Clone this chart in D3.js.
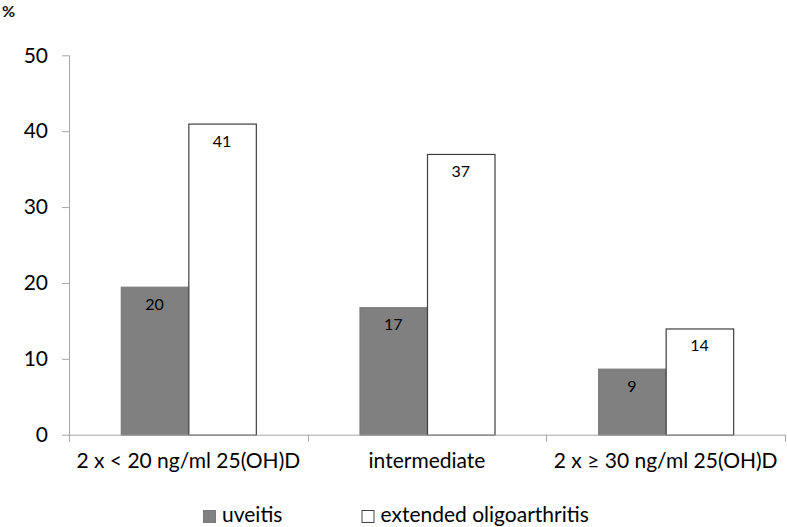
<!DOCTYPE html>
<html>
<head>
<meta charset="utf-8">
<script src="https://cdn.jsdelivr.net/npm/d3@7"></script>
<style>
  html, body { margin: 0; padding: 0; background: #fff; }
  svg { display: block; font-family: Lato, "Open Sans", sans-serif; }
</style>
</head>
<body>
<svg id="chart" width="787" height="527"></svg>
<script>
const categories = ["2 x < 20 ng/ml 25(OH)D", "intermediate", "2 x \u2265 30 ng/ml 25(OH)D"];
const seriesNames = ["uveitis", "extended oligoarthritis"];
const uveitis = [19.5, 16.8, 8.7];
const extended = [41.0, 37.0, 14.0];
const uveitisLabels = ["20", "17", "9"];
const extendedLabels = ["41", "37", "14"];
const yTicks = [0, 10, 20, 30, 40, 50];
const yUnit = "%";

const fills = { "uveitis": "#808080", "extended oligoarthritis": "#ffffff" };
const strokes = { "uveitis": "#7a7a7a", "extended oligoarthritis": "#3f3f3f" };

const svg = d3.select("#chart");
const mLeft = 69, mRight = 785, mTop = 55.3, mBottom = 434.7;

const x0 = d3.scaleBand().domain(categories).range([mLeft, mRight]).padding(0);
const x1 = d3.scaleBand().domain(seriesNames).range([0, x0.bandwidth()]).paddingInner(0).paddingOuter(0.768);
const y = d3.scaleLinear().domain([0, 50]).range([mBottom, mTop]);

const rows = categories.map((c, i) => ({
  cat: c,
  vals: [
    { s: seriesNames[0], v: uveitis[i], lab: uveitisLabels[i] },
    { s: seriesNames[1], v: extended[i], lab: extendedLabels[i] }
  ]
}));

// Y axis
const yAxis = d3.axisLeft(y).tickValues(yTicks).tickSize(7).tickPadding(14).tickSizeOuter(0);
const gy = svg.append("g").attr("transform", `translate(${mLeft},0)`).call(yAxis);
gy.select(".domain").attr("stroke", "#a6a6a6").attr("d", `M0.5,${mTop}V${mBottom + 7}`);
gy.selectAll(".tick line").attr("stroke", "#a6a6a6");
gy.selectAll(".tick text").attr("font-size", 21).attr("fill", "#000").attr("font-family", "Lato, sans-serif");

// Groups and bars
const g = svg.append("g");
const grp = g.selectAll("g.cat").data(rows).join("g")
  .attr("class", "cat")
  .attr("transform", d => `translate(${x0(d.cat)},0)`);

grp.selectAll("rect").data(d => d.vals).join("rect")
  .attr("x", d => x1(d.s) + 0.5)
  .attr("y", d => y(d.v) + 0.5)
  .attr("width", x1.bandwidth())
  .attr("height", d => y(0) - y(d.v))
  .attr("fill", d => fills[d.s])
  .attr("stroke", d => strokes[d.s])
  .attr("stroke-width", 1.2);

grp.selectAll("text.val").data(d => d.vals).join("text")
  .attr("class", "val")
  .attr("x", d => x1(d.s) + x1.bandwidth() / 2)
  .attr("y", d => y(d.v) + 23)
  .attr("text-anchor", "middle")
  .attr("font-size", 16)
  .attr("fill", "#000")
  .text(d => d.lab);

// X axis
const xAxis = d3.axisBottom(x0).tickSize(0).tickPadding(18);
const gx = svg.append("g").attr("transform", `translate(0,${mBottom})`).call(xAxis);
gx.select(".domain").attr("stroke", "#a6a6a6").attr("d", `M${mLeft},0.5H${mRight}`);
gx.selectAll(".tick text").attr("font-size", 21).attr("fill", "#000").attr("font-family", "Lato, sans-serif");
// category separator ticks
const sepPositions = categories.map(c => x0(c)).concat([x0(categories[categories.length - 1]) + x0.bandwidth()]);
gx.selectAll("line.sep").data(sepPositions).join("line")
  .attr("class", "sep")
  .attr("x1", d => Math.round(d) + 0.5).attr("x2", d => Math.round(d) + 0.5)
  .attr("y1", 0).attr("y2", 7)
  .attr("stroke", "#a6a6a6");

// unit label
svg.append("text").attr("x", 2).attr("y", 17).attr("font-size", 16).attr("font-weight", "bold")
  .attr("fill", "#111").text(yUnit);

// Legend
const legendX = [203, 361.5];
const lg = svg.append("g").selectAll("g").data(seriesNames).join("g")
  .attr("transform", (d, i) => `translate(${legendX[i]},510)`);
lg.append("rect").attr("x", 0.5).attr("y", 0.5).attr("width", 12).attr("height", 12)
  .attr("fill", d => fills[d]).attr("stroke", d => d === "uveitis" ? "#7a7a7a" : "#444").attr("stroke-width", 1);
lg.append("text").attr("x", 19).attr("y", 12).attr("font-size", 21).attr("fill", "#000").text(d => d);
</script>
</body>
</html>
